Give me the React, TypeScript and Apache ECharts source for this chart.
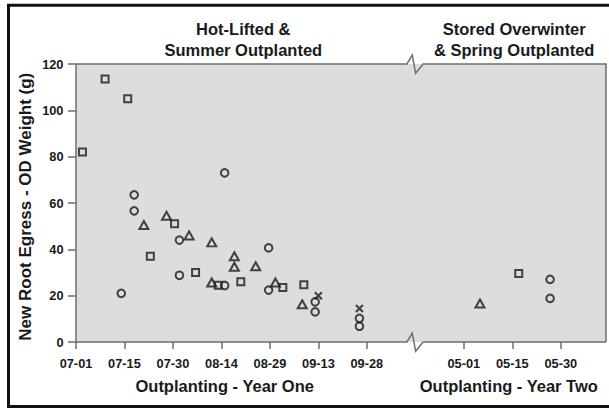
import React, { useEffect, useRef } from "react";
import * as echarts from "echarts";

// x = plotting position in days (07-01 of year one = 0; year two placed after the axis break)
const xTickValues = [0, 15, 30, 45, 60, 75, 90, 120, 135, 150];
const xTickLabels = ["07-01", "07-15", "07-30", "08-14", "08-29", "09-13", "09-28", "05-01", "05-15", "05-30"];
const yTickValues = [0, 20, 40, 60, 80, 100, 120];

const squarePoints: [number, number][] = [
  [2, 82], [9, 113.5], [16, 105], [23, 37], [30.5, 51], [37, 30], [44, 24.5],
  [51, 26], [64, 23.5], [70.5, 24.7], [137, 29.6],
];
const circlePoints: [number, number][] = [
  [14, 21], [18, 63.5], [18, 56.6], [46, 73], [32, 44], [32, 28.8], [59.6, 40.6],
  [46, 24.4], [59.6, 22.4], [74, 17.3], [74, 13], [87.7, 10.2], [87.7, 6.8],
  [146.7, 27], [146.7, 18.8],
];
const trianglePoints: [number, number][] = [
  [21, 50.5], [28, 54.5], [35, 46], [42, 43], [49, 37], [49, 32.5], [55.6, 32.7],
  [42, 25.7], [61.7, 25.7], [70, 16.3], [125, 16.6],
];
const crossPoints: [number, number][] = [[75, 20], [87.7, 14.5]];

const xMin = 0;
const xMax = 164;
const breakStart = 102.4;
const breakEnd = 107.4;

const panelTitles = ["Hot-Lifted &\nSummer Outplanted", "Stored Overwinter\n& Spring Outplanted"];
const xAxisTitles = ["Outplanting - Year One", "Outplanting - Year Two"];
const yAxisTitle = "New Root Egress - OD Weight (g)";

const FONT = '"Liberation Sans", Arial, Helvetica, sans-serif';
const TEXT = "#1a1a1a";
const AXIS = "#6e6e6e";
const MARK = "#1a1a1a";

export default function App() {
  const ref = useRef<HTMLDivElement>(null);
  useEffect(() => {
    const chart = echarts.init(ref.current!, null, { renderer: "svg" });
    const markStyle = { color: "rgba(0,0,0,0)", borderColor: MARK, borderWidth: 2 };
    const option: any = {
      animation: false,
      backgroundColor: "#ffffff",
      grid: {
        left: 76, right: 3, top: 64, bottom: 66,
        show: true, backgroundColor: "#dddddd", borderWidth: 0,
      },
      xAxis: {
        type: "value", min: xMin, max: xMax,
        axisLine: { show: false },
        splitLine: { show: false },
        axisTick: {
          show: true, inside: false, length: 7, customValues: xTickValues,
          lineStyle: { color: AXIS, width: 1.5 },
        },
        axisLabel: {
          customValues: xTickValues, margin: 15,
          formatter: (v: number) => {
            const i = xTickValues.indexOf(v);
            return i >= 0 ? xTickLabels[i] : "";
          },
          color: TEXT, fontFamily: FONT, fontWeight: "bold", fontSize: 12.8,
        },
      },
      yAxis: {
        type: "value", min: 0, max: 120, interval: 20,
        axisLine: { show: true, lineStyle: { color: AXIS, width: 1.5 } },
        splitLine: { show: false },
        axisTick: { show: true, inside: false, length: 8, lineStyle: { color: AXIS, width: 1.5 } },
        axisLabel: {
          margin: 12.5, color: TEXT, fontFamily: FONT, fontWeight: "bold", fontSize: 12.8,
          formatter: (v: number) => (yTickValues.includes(v) ? String(v) : ""),
        },
      },
      series: [
        { type: "scatter", name: "square", data: squarePoints, symbol: "rect", symbolSize: 7, itemStyle: markStyle },
        { type: "scatter", name: "circle", data: circlePoints, symbol: "circle", symbolSize: 7.6, itemStyle: markStyle },
        { type: "scatter", name: "triangle", data: trianglePoints, symbol: "triangle", symbolSize: [9, 8], itemStyle: markStyle },
        {
          type: "scatter", name: "cross", data: crossPoints,
          symbol: "path://M0,0L10,10M10,0L0,10", symbolSize: 7,
          itemStyle: { color: "rgba(0,0,0,0)", borderColor: MARK, borderWidth: 2.2 },
        },
      ],
    };
    chart.setOption(option);

    const p = (x: number, y: number) => chart.convertToPixel({ gridIndex: 0 }, [x, y]) as number[];
    const [l, b] = p(xMin, 0);
    const [r, t] = p(xMax, 120);
    const [b1] = p(breakStart, 0);
    const [b2] = p(breakEnd, 0);
    const w = b2 - b1;
    const zig = (yy: number) => [
      [b1, yy], [b1 + w * 0.33, yy - 9], [b1 + w * 0.54, yy + 9.3], [b2, yy],
    ];
    const lineStyle = { stroke: AXIS, lineWidth: 1.5, fill: null };
    const titleStyle = { fill: TEXT, fontFamily: FONT, fontWeight: "bold", fontSize: 16.5 };

    chart.setOption({
      graphic: [
        {
          type: "rect", z: 100, silent: true,
          shape: { x: 8.5, y: 5.3, width: 640, height: 401.2 },
          style: { fill: null, stroke: "#111111", lineWidth: 3 },
        },
        {
          type: "polyline", z: 50, silent: true,
          shape: { points: [[l, t], ...zig(t), [r, t], [r, b]] },
          style: lineStyle,
        },
        {
          type: "polyline", z: 50, silent: true,
          shape: { points: [[l, b], ...zig(b), [r, b]] },
          style: lineStyle,
        },
        {
          type: "text", x: 243.3, y: 39, silent: true,
          style: { ...titleStyle, text: panelTitles[0], align: "center", verticalAlign: "middle", lineHeight: 21 },
        },
        {
          type: "text", x: 514.2, y: 39, silent: true,
          style: { ...titleStyle, text: panelTitles[1], align: "center", verticalAlign: "middle", lineHeight: 21 },
        },
        {
          type: "text", x: 224.7, y: 386, silent: true,
          style: { ...titleStyle, text: xAxisTitles[0], align: "center", verticalAlign: "middle" },
        },
        {
          type: "text", x: 508.8, y: 386, silent: true,
          style: { ...titleStyle, text: xAxisTitles[1], align: "center", verticalAlign: "middle" },
        },
        {
          type: "text", x: 25, y: 206.7, rotation: Math.PI / 2, silent: true,
          style: { ...titleStyle, fontSize: 17, text: yAxisTitle, align: "center", verticalAlign: "middle" },
        },
      ],
    });

    return () => chart.dispose();
  }, []);
  return <div ref={ref} style={{ position: "absolute", left: 0, top: 0, width: 609, height: 408 }} />;
}
